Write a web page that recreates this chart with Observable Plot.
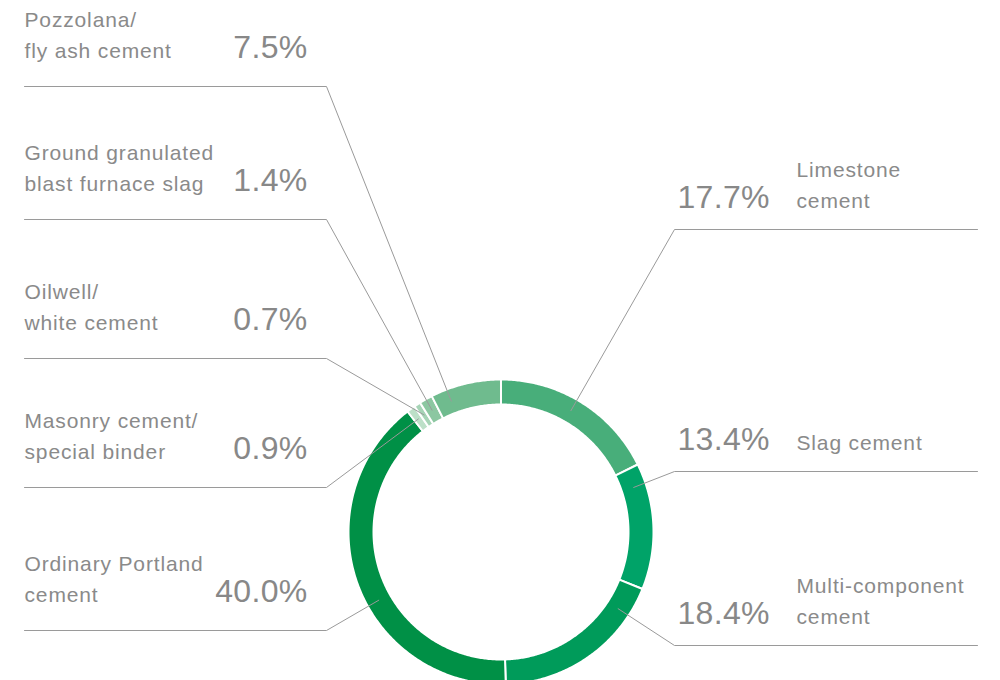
<!DOCTYPE html>
<html>
<head>
<meta charset="utf-8">
<script src="https://cdn.jsdelivr.net/npm/d3@7"></script>
<script src="https://cdn.jsdelivr.net/npm/@observablehq/plot@0.6"></script>
<style>
  html, body { margin: 0; padding: 0; background: #fff; }
  #chart svg { display: block; }
  .lbl text { letter-spacing: 0.85px; }
  .pct text { letter-spacing: 0.3px; }
</style>
</head>
<body>
<div id="chart"></div>
<script>
// ---- data ----
const categories = [
  "Limestone cement", "Slag cement", "Multi-component cement", "Ordinary Portland cement",
  "Masonry cement/special binder", "Oilwell/white cement",
  "Ground granulated blast furnace slag", "Pozzolana/fly ash cement"
];
const shares = [17.7, 13.4, 18.4, 40.0, 0.9, 0.7, 1.4, 7.5];
const labelLines = [
  ["Limestone", "cement"], ["Slag cement"], ["Multi-component", "cement"],
  ["Ordinary Portland", "cement"], ["Masonry cement/", "special binder"],
  ["Oilwell/", "white cement"], ["Ground granulated", "blast furnace slag"],
  ["Pozzolana/", "fly ash cement"]
];
const colors = ["#48ae7a", "#00a368", "#009b5a", "#009046", "#bde0c8", "#a6d4b6", "#8cc7a1", "#6fbb8e"];

// ---- layout (not data) ----
const side = ["right", "right", "right", "left", "left", "left", "left", "left"];
const leaderY = [229, 471, 645, 630, 487, 358, 219, 86];
const anchorFrac = [0.47, 0.16, 0.17, 0.435, 0.5, 0.5, 0.5, 0.23];
const cx = 500.5, cy = 531.5, rIn = 127.5, rOut = 152.5, rAnchor = 140;

const pol = (r, a) => ({x: cx + r * Math.sin(a), y: cy - r * Math.cos(a)});
const toAng = p => p / 100 * 2 * Math.PI;

let acc = 0;
const segs = categories.map((name, i) => {
  const s = {name, start: acc, end: acc + shares[i], i};
  acc += shares[i];
  return s;
});

const ring = [];
segs.forEach(s => {
  const a0 = toAng(s.start), a1 = toAng(s.end);
  const n = Math.max(2, Math.ceil((a1 - a0) / 0.01));
  const pts = [];
  for (let k = 0; k <= n; k++) pts.push(pol(rOut, a0 + (a1 - a0) * k / n));
  for (let k = n; k >= 0; k--) pts.push(pol(rIn, a0 + (a1 - a0) * k / n));
  pts.push(pts[0]);
  pts.forEach(p => ring.push({...p, name: s.name}));
});

const leaders = [];
const labels = [];
const pcts = [];
segs.forEach((s, i) => {
  const a = toAng(s.start + anchorFrac[i] * shares[i]);
  const end = pol(rAnchor, a);
  const ly = leaderY[i];
  if (side[i] === "left") {
    leaders.push({x: 24, y: ly, name: s.name}, {x: 326, y: ly, name: s.name}, {...end, name: s.name});
    labels.push({x: 24, y: ly - 29, text: labelLines[i].join("\n"), anchor: "start"});
    pcts.push({x: 307, y: ly - 29, text: shares[i].toFixed(1) + "%", anchor: "end"});
  } else {
    leaders.push({...end, name: s.name}, {x: 674, y: ly, name: s.name}, {x: 977, y: ly, name: s.name});
    labels.push({x: 796, y: ly - 22, text: labelLines[i].join("\n"), anchor: "start"});
    pcts.push({x: 677, y: ly - 22, text: shares[i].toFixed(1) + "%", anchor: "start"});
  }
});

const chart = Plot.plot({
  width: 1000,
  height: 680,
  margin: 0,
  x: {domain: [0, 1000], range: [0, 1000], axis: null},
  y: {domain: [0, 680], range: [0, 680], axis: null},
  color: {domain: categories, range: colors},
  style: {fontFamily: "'Liberation Sans', Arial, sans-serif", background: "#fff"},
  marks: [
    Plot.line(ring, {x: "x", y: "y", z: "name", fill: "name", stroke: "#fff", strokeWidth: 2, curve: "linear"}),
    Plot.line(leaders, {x: "x", y: "y", z: "name", stroke: "#9a9a9a", strokeWidth: 1}),
    Plot.text(labels, {
      x: "x", y: "y", text: "text", textAnchor: "start", lineAnchor: "bottom",
      lineHeight: 1.43, fontSize: 21, fill: "#8a8a8a", className: "lbl"
    }),
    Plot.text(pcts.filter(d => d.anchor === "end"), {
      x: "x", y: "y", text: "text", textAnchor: "end", lineAnchor: "bottom",
      fontSize: 32, fill: "#888888", className: "pct"
    }),
    Plot.text(pcts.filter(d => d.anchor === "start"), {
      x: "x", y: "y", text: "text", textAnchor: "start", lineAnchor: "bottom",
      fontSize: 32, fill: "#888888", className: "pct"
    })
  ]
});
document.getElementById("chart").appendChild(chart);
</script>
</body>
</html>
